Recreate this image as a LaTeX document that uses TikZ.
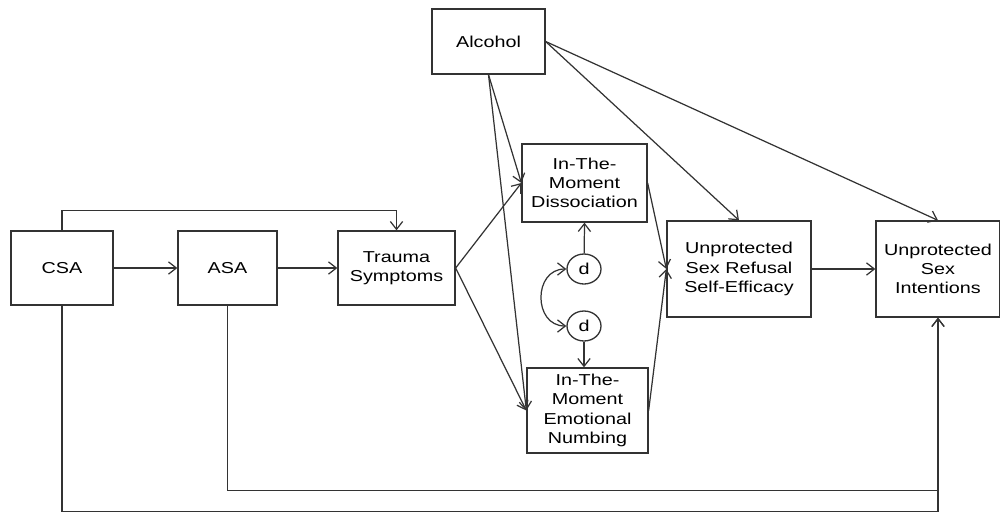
\documentclass[tikz,border=0pt]{standalone}
\usepackage{fontspec}
\setmainfont{Liberation Sans}[FakeStretch=1.25]
\usetikzlibrary{arrows.meta,shapes.geometric}

\tikzset{
  >={Straight Barb[length=4.5pt,width=7pt]},
  box/.style={draw=black!80, line width=0.75pt, rectangle, align=center, inner sep=2pt,
    font=\fontsize{9}{11}\selectfont},
  dist/.style={draw=black!80, line width=0.75pt, ellipse, inner sep=0pt,
    minimum width=0.68cm, minimum height=0.6cm, font=\fontsize{9}{11}\selectfont},
  link/.style={draw=black!80, line width=0.7pt}
}

\begin{document}
\begin{tikzpicture}[x=0.02cm, y=-0.02cm]
  \useasboundingbox (0,0) rectangle (1000,514);

  % Draw variables
  \node[box, minimum width=2.04cm, minimum height=1.48cm] (csa) at (62,268) {CSA};
  \node[box, minimum width=1.98cm, minimum height=1.48cm] (asa) at (227.5,268) {ASA};
  \node[box, minimum width=2.34cm, minimum height=1.48cm] (trauma) at (396.5,268) {Trauma\\Symptoms};
  \node[box, minimum width=2.26cm, minimum height=1.3cm] (alc) at (488.5,41.5) {Alcohol};
  \node[box, minimum width=2.5cm, minimum height=1.56cm] (diss) at (584.5,183) {In-The-\\Moment\\Dissociation};
  \node[box, minimum width=2.42cm, minimum height=1.7cm] (numb) at (587.5,410.5) {In-The-\\Moment\\Emotional\\Numbing};
  \node[box, minimum width=2.88cm, minimum height=1.92cm] (ref) at (739,269) {Unprotected\\Sex Refusal\\Self-Efficacy};
  \node[box, minimum width=2.48cm, minimum height=1.92cm] (int) at (938,269) {Unprotected\\Sex\\Intentions};

  % Draw disturbances
  \node[dist] (d1) at (584,269) {d};
  \node[dist] (d2) at (584,326) {d};

  % Draw paths
  \draw[->, link] (csa) -- (asa);
  \draw[->, link] (asa) -- (trauma);
  \draw[->, link] (csa.north) -- ++(0,-20) -| (trauma.north);
  \draw[->, link] (trauma.east) -- (diss.west);
  \draw[->, link] (trauma.east) -- (numb.west);
  \draw[->, link] (alc.south) -- (diss.west);
  \draw[->, link] (alc.south) -- (numb.west);
  \draw[->, link] (alc.east) -- (ref.north);
  \draw[->, link] (alc.east) -- (int.north);
  \draw[->, link] (d1) -- (diss.south);
  \draw[->, link] (d2) -- (d2 |- numb.north);
  \draw[<->, link] (d1.west) to[out=180, in=180, looseness=1.5] (d2.west);
  \draw[->, link] (diss.east) -- (ref.west);
  \draw[->, link] (numb.east) -- (ref.west);
  \draw[->, link] (ref) -- (int);
  \draw[->, link] (asa.south) -- ++(0,185) -| (int.south);
  \draw[->, link] (csa.south) -- ++(0,206) -| (int.south);
\end{tikzpicture}
\end{document}
